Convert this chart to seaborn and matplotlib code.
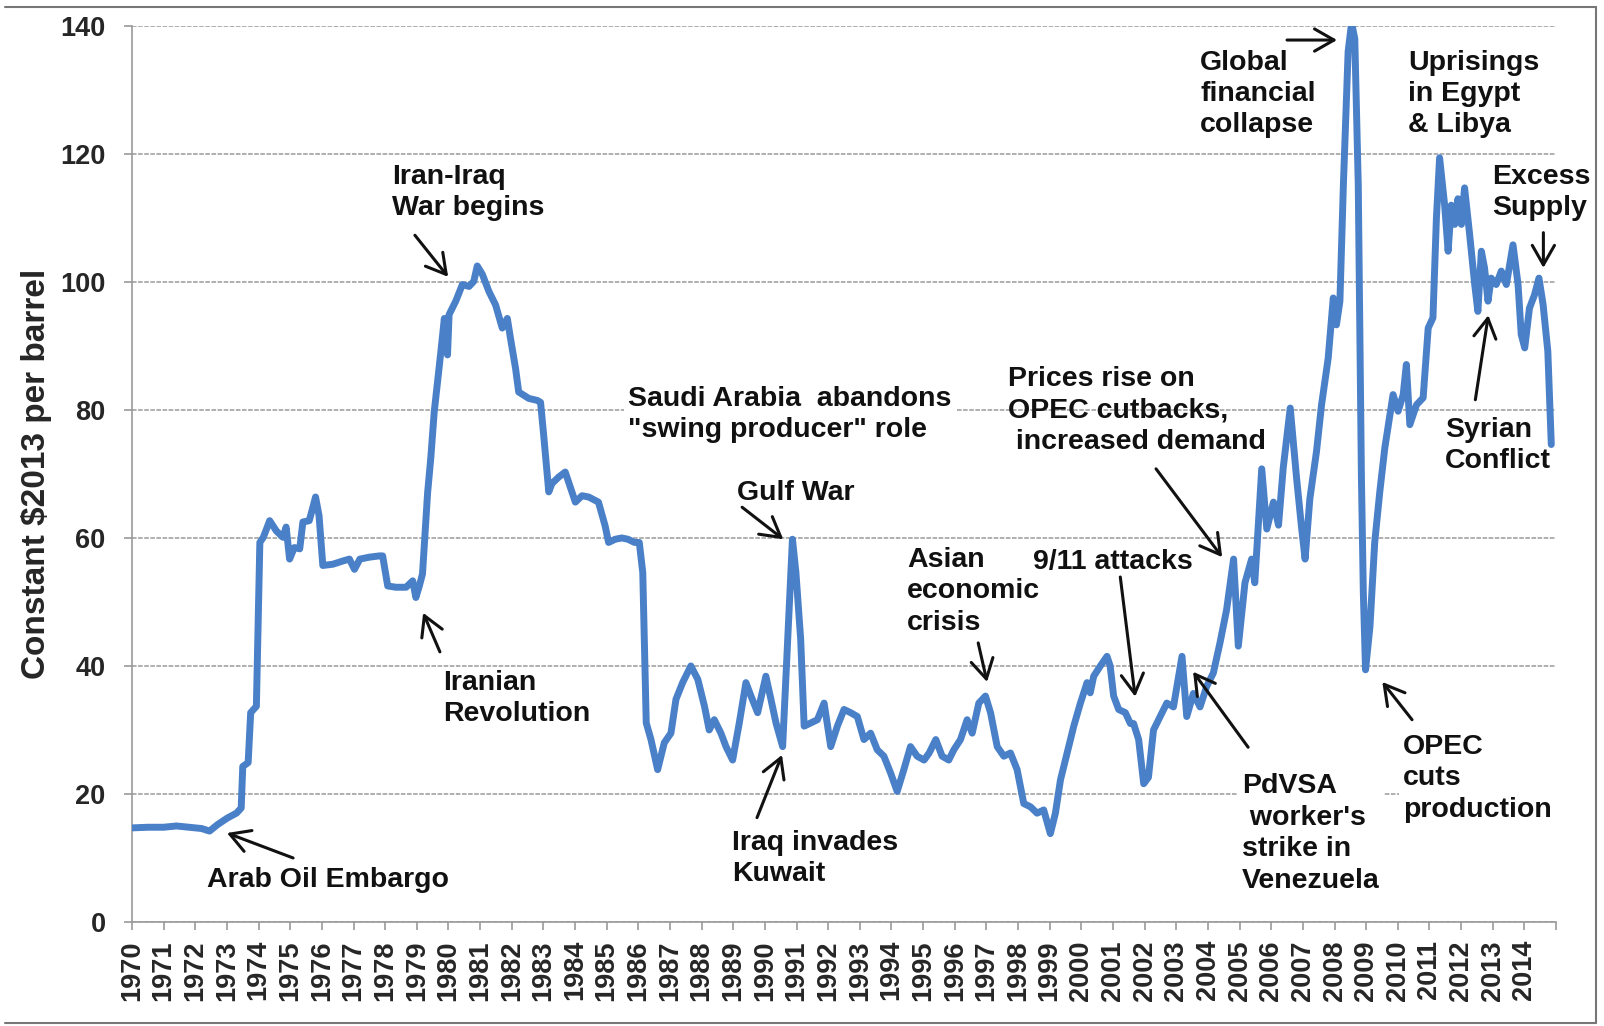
import matplotlib as mpl
mpl.use("Agg")
from matplotlib import pyplot as plt
from matplotlib.lines import Line2D
import pandas as pd
import seaborn as sns

# Monthly-ish oil price, constant $2013 per barrel
years = [
    1970.00, 1970.50, 1971.00, 1971.40, 1971.80, 1972.20, 1972.45, 1972.70,
    1973.00, 1973.30, 1973.45, 1973.50, 1973.67, 1973.75, 1973.93, 1974.04,
    1974.15, 1974.35, 1974.56, 1974.77, 1974.87, 1974.98, 1975.13, 1975.30,
    1975.40, 1975.60, 1975.70, 1975.80, 1975.91, 1976.03, 1976.35, 1976.66,
    1976.87, 1977.03, 1977.20, 1977.50, 1977.82, 1977.92, 1978.08, 1978.34,
    1978.66, 1978.87, 1978.97, 1979.08, 1979.18, 1979.34, 1979.44, 1979.55,
    1979.76, 1979.87, 1979.97, 1980.02, 1980.23, 1980.44, 1980.65, 1980.80,
    1980.91, 1981.07, 1981.28, 1981.49, 1981.70, 1981.86, 1981.96, 1982.12,
    1982.22, 1982.38, 1982.54, 1982.80, 1982.91, 1983.01, 1983.17, 1983.27,
    1983.48, 1983.69, 1983.90, 1984.01, 1984.22, 1984.43, 1984.74, 1984.95,
    1985.06, 1985.27, 1985.48, 1985.67, 1985.88, 1986.03, 1986.14, 1986.25,
    1986.40, 1986.61, 1986.82, 1987.03, 1987.19, 1987.40, 1987.66, 1987.88,
    1988.09, 1988.24, 1988.40, 1988.61, 1988.77, 1988.98, 1989.19, 1989.40,
    1989.56, 1989.77, 1990.03, 1990.19, 1990.35, 1990.56, 1990.72, 1990.87,
    1990.98, 1991.13, 1991.24, 1991.45, 1991.66, 1991.87, 1992.08, 1992.29,
    1992.50, 1992.71, 1992.92, 1993.13, 1993.34, 1993.55, 1993.76, 1993.97,
    1994.18, 1994.39, 1994.60, 1994.81, 1995.03, 1995.19, 1995.40, 1995.60,
    1995.81, 1995.97, 1996.18, 1996.39, 1996.55, 1996.76, 1996.97, 1997.13,
    1997.34, 1997.55, 1997.76, 1997.97, 1998.18, 1998.39, 1998.60, 1998.81,
    1999.02, 1999.18, 1999.34, 1999.55, 1999.76, 1999.97, 2000.18, 2000.28,
    2000.39, 2000.60, 2000.81, 2000.91, 2001.02, 2001.18, 2001.39, 2001.55,
    2001.65, 2001.81, 2001.97, 2002.12, 2002.28, 2002.49, 2002.70, 2002.91,
    2003.18, 2003.33, 2003.54, 2003.75, 2003.96, 2004.17, 2004.38, 2004.59,
    2004.81, 2004.96, 2005.17, 2005.38, 2005.48, 2005.59, 2005.70, 2005.86,
    2006.07, 2006.23, 2006.38, 2006.60, 2006.80, 2006.95, 2007.07, 2007.22,
    2007.43, 2007.59, 2007.80, 2007.96, 2008.06, 2008.17, 2008.28, 2008.43,
    2008.54, 2008.64, 2008.75, 2008.85, 2008.91, 2008.98, 2009.12, 2009.27,
    2009.43, 2009.59, 2009.85, 2010.01, 2010.17, 2010.27, 2010.38, 2010.59,
    2010.80, 2010.96, 2011.11, 2011.22, 2011.32, 2011.48, 2011.59, 2011.69,
    2011.80, 2011.90, 2012.01, 2012.11, 2012.27, 2012.43, 2012.53, 2012.64,
    2012.74, 2012.85, 2012.95, 2013.11, 2013.27, 2013.43, 2013.64, 2013.80,
    2013.90, 2014.01, 2014.16, 2014.32, 2014.46, 2014.59, 2014.74, 2014.85,
]
prices = [
    14.7, 14.8, 14.8, 15.0, 14.8, 14.6, 14.2, 15.2,
    16.2, 17.0, 17.8, 24.3, 24.9, 32.7, 33.7, 59.3,
    60.1, 62.7, 61.1, 60.1, 61.7, 56.7, 58.5, 58.3,
    62.5, 62.7, 64.5, 66.4, 63.5, 55.7, 55.9, 56.4,
    56.7, 55.1, 56.7, 57.0, 57.2, 57.2, 52.5, 52.3,
    52.3, 53.3, 50.7, 52.5, 54.4, 67.0, 72.4, 79.7,
    89.1, 94.3, 88.6, 94.9, 97.0, 99.6, 99.3, 100.1,
    102.5, 101.2, 98.5, 96.4, 92.8, 94.3, 91.2, 86.5,
    82.8, 82.3, 81.8, 81.5, 81.2, 76.0, 67.2, 68.5,
    69.5, 70.3, 67.2, 65.6, 66.6, 66.4, 65.6, 61.9,
    59.3, 59.8, 60.0, 59.8, 59.3, 59.3, 54.6, 31.1,
    28.5, 23.8, 28.0, 29.5, 34.8, 37.4, 40.0, 37.9,
    33.7, 30.0, 31.6, 29.5, 27.4, 25.3, 31.1, 37.4,
    35.3, 32.7, 38.4, 34.8, 31.1, 27.4, 44.2, 59.8,
    54.6, 44.2, 30.6, 31.1, 31.6, 34.2, 27.4, 30.6,
    33.2, 32.7, 32.1, 28.5, 29.5, 26.9, 25.9, 23.3,
    20.4, 23.8, 27.4, 25.9, 25.3, 26.4, 28.5, 25.9,
    25.3, 26.9, 28.5, 31.6, 29.5, 34.2, 35.3, 32.7,
    27.4, 25.9, 26.4, 23.8, 18.5, 18.0, 17.0, 17.5,
    13.8, 17.0, 22.2, 26.4, 30.6, 34.2, 37.4, 35.8,
    38.4, 40.0, 41.5, 40.0, 35.3, 33.2, 32.7, 31.0,
    31.0, 28.5, 21.6, 22.6, 30.0, 32.1, 34.2, 33.6,
    41.5, 32.1, 35.7, 33.6, 36.8, 38.9, 43.6, 48.8,
    56.7, 43.1, 53.0, 56.7, 53.0, 61.9, 70.8, 61.4,
    65.6, 62.0, 71.0, 80.3, 69.4, 62.0, 56.7, 66.1,
    73.5, 80.8, 88.1, 97.5, 93.3, 97.0, 115.2, 136.0,
    140.5, 138.0, 115.2, 69.4, 51.5, 39.4, 46.2, 59.3,
    67.2, 74.1, 82.4, 79.8, 82.4, 87.1, 77.7, 80.8,
    81.9, 92.8, 94.4, 110.0, 119.4, 112.0, 104.8, 112.0,
    109.0, 113.0, 109.0, 114.7, 107.4, 99.6, 95.4, 104.8,
    102.2, 97.0, 100.6, 99.6, 101.7, 99.6, 105.8, 99.6,
    91.8, 89.7, 95.9, 98.0, 100.6, 96.5, 89.2, 74.6,
]

tick_years = list(range(1970, 2016))
y_ticks = [0, 20, 40, 60, 80, 100, 120, 140]

# Event labels: text, top-left anchor (year, price), boxed
events = [
    ("Arab Oil Embargo", 1972.37, 8.6, False),
    ("Iranian\nRevolution", 1979.83, 39.4, False),
    ("Iran-Iraq\nWar begins", 1978.22, 118.5, False),
    ("Saudi Arabia  abandons\n\"swing producer\" role", 1985.68, 83.8, True),
    ("Gulf War", 1989.12, 69.1, False),
    ("Iraq invades\nKuwait", 1988.96, 14.4, False),
    ("Asian\neconomic\ncrisis", 1994.49, 58.6, False),
    ("9/11 attacks", 1998.48, 58.2, False),
    ("Prices rise on\nOPEC cutbacks,\n increased demand", 1997.69, 86.8, False),
    ("PdVSA\n worker's\nstrike in\nVenezuela", 2005.08, 23.2, True),
    ("OPEC\ncuts\nproduction", 2010.17, 29.4, True),
    ("Global\nfinancial\ncollapse", 2003.75, 136.3, False),
    ("Uprisings\nin Egypt\n& Libya", 2010.33, 136.3, False),
    ("Excess\nSupply", 2012.98, 118.5, True),
    ("Syrian\nConflict", 2011.50, 78.9, False),
]

# Arrows: (tail year, tail price) -> (head year, head price)
arrows = [
    ((1975.09, 10.0), (1973.00, 13.9)),
    ((1979.73, 42.2), (1979.20, 48.3)),
    ((1978.94, 107.3), (1979.99, 100.8)),
    ((1989.28, 64.8), (1990.58, 59.8)),
    ((1989.75, 16.3), (1990.54, 26.1)),
    ((1996.74, 43.6), (1997.02, 37.5)),
    ((2001.23, 53.9), (2001.70, 35.2)),
    ((2002.36, 70.8), (2004.45, 57.0)),
    ((2005.27, 27.3), (2003.53, 39.1)),
    ((2010.45, 31.6), (2009.51, 37.5)),
    ((2006.50, 137.8), (2008.08, 137.8)),
    ((2014.60, 107.7), (2014.60, 102.2)),
    ((2012.45, 81.6), (2012.86, 94.8)),
]

LINE_BLUE = "#4a80c8"
GRID_GREY = "#9a9a9a"

sns.set_theme(style="white")
plt.rcParams["font.family"] = ["Liberation Sans", "DejaVu Sans"]

fig = plt.figure(figsize=(16.04, 10.26), dpi=100)
axes = fig.add_axes([0.0823, 0.1014, 0.8878, 0.8733])

df = pd.DataFrame({"Year": years, "Price": prices})
sns.lineplot(data=df, x="Year", y="Price", ax=axes, color=LINE_BLUE,
             lw=5, estimator=None, zorder=4)

axes.set_xlim(1970, 2015)
axes.set_ylim(0, 140)

# Ticks and labels
axes.set_xticks(tick_years)
axes.set_xticklabels([str(y) if y < 2015 else "" for y in tick_years],
                     rotation=90, fontsize=19.5, fontweight="bold")
axes.set_yticks(y_ticks)
axes.set_yticklabels([str(v) for v in y_ticks], fontsize=19.5, fontweight="bold")
axes.tick_params(axis="x", direction="out", length=6, width=1.2,
                 color=GRID_GREY, pad=7, bottom=True)
axes.tick_params(axis="y", direction="out", length=6, width=1.2,
                 color=GRID_GREY, pad=13, left=True)

axes.set_xlabel("")
axes.set_ylabel("Constant $2013 per barrel", fontsize=24, fontweight="bold",
                labelpad=6)

# Grid and spines
axes.set_axisbelow(True)
axes.yaxis.grid(True, color=GRID_GREY, lw=1.1, ls=(0, (3, 1)))
axes.xaxis.grid(False)
for side in ["top", "right"]:
    axes.spines[side].set_visible(False)
for side in ["left", "bottom"]:
    axes.spines[side].set_color(GRID_GREY)
    axes.spines[side].set_linewidth(1.2)

# Event text
for text, x, y, boxed in events:
    kw = {}
    if boxed:
        kw["bbox"] = dict(boxstyle="square,pad=0.15", fc="white", ec="none")
    axes.text(x, y, text, ha="left", va="top", fontsize=20.5,
              fontweight="bold", color="#111111", linespacing=1.27,
              zorder=3, clip_on=False, **kw)

# Event arrows
for tail, head in arrows:
    axes.annotate("", xy=head, xytext=tail,
                  arrowprops=dict(arrowstyle="->,head_length=0.7,head_width=0.4",
                                  color="#111111", lw=2.2, shrinkA=0, shrinkB=0,
                                  mutation_scale=20),
                  zorder=5)

# Chart-area border like the original
border_kw = dict(color="#777777", lw=1.5, transform=fig.transFigure)
fig.add_artist(Line2D([0.003, 0.995], [0.993, 0.993], **border_kw))
fig.add_artist(Line2D([0.995, 0.995], [0.003, 0.993], **border_kw))
fig.add_artist(Line2D([0.003, 0.995], [0.003, 0.003], **border_kw))

fig.savefig("out.png", dpi=100)
